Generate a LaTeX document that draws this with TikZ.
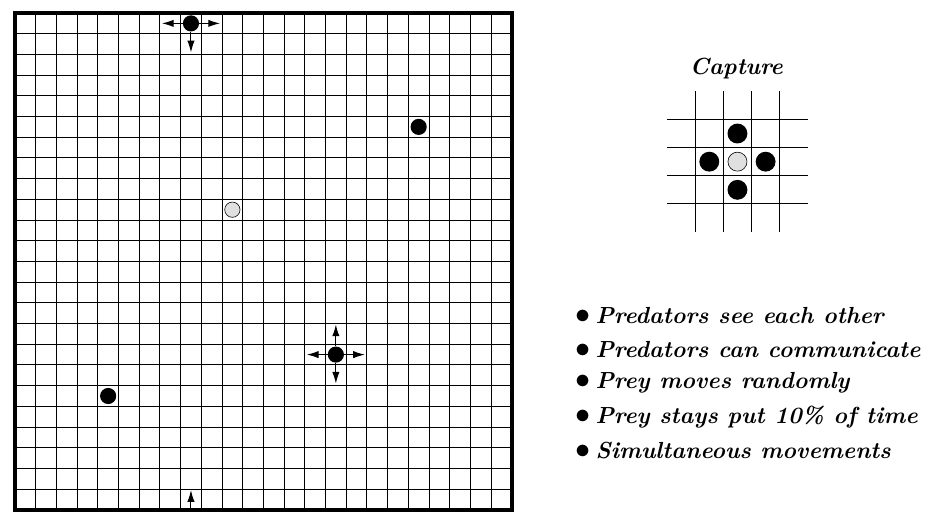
\documentclass[tikz,border=0pt]{standalone}
\usepackage{tikz}
\usetikzlibrary{arrows.meta, positioning}
\definecolor{preygray}{RGB}{224, 224, 224}
\newcommand{\rulebullet}{\makebox[14pt][l]{\huge$\bullet$}}

\begin{document}
\begin{tikzpicture}[x=0.5cm, y=0.5cm,
    predator/.style={circle, fill=black, inner sep=0pt, minimum size=0.39cm},
    prey/.style={circle, draw=black, fill=preygray, line width=0.4pt, inner sep=0pt, minimum size=0.37cm},
    bigpredator/.style={predator, minimum size=0.48cm},
    bigprey/.style={prey, minimum size=0.46cm},
    move/.style={-{Latex[length=8pt, width=5pt]}, line width=0.7pt},
    rule/.style={font=\fontsize{16}{19}\selectfont\bfseries\itshape, anchor=base west, inner sep=0pt}]
    \useasboundingbox (-0.725,-0.64) rectangle (43.96,24.63);

    % world grid
    \draw[line width=0.7pt, step=1] (0,0) grid (24,24);
    \draw[line width=2.4pt] (0,0) rectangle (24,24);

    % predators and prey
    \node[predator] (pA) at (8.5,23.5) {};
    \node[predator] (pB) at (19.5,18.5) {};
    \node[predator] (pC) at (15.5,7.5) {};
    \node[predator] (pD) at (4.5,5.5) {};
    \node[prey] (prey) at (10.5,14.5) {};

    % moves
    \coordinate (pAw) at (7.1,23.5);
    \coordinate (pAe) at (9.9,23.5);
    \coordinate (pAs) at (8.5,22.1);
    \draw[move] (pA) -- (pAw);
    \draw[move] (pA) -- (pAe);
    \draw[move] (pA) -- (pAs);

    \coordinate (pCw) at (14.1,7.5);
    \coordinate (pCe) at (16.9,7.5);
    \coordinate (pCn) at (15.5,8.95);
    \coordinate (pCs) at (15.5,6.1);
    \draw[move] (pC) -- (pCw);
    \draw[move] (pC) -- (pCe);
    \draw[move] (pC) -- (pCn);
    \draw[move] (pC) -- (pCs);

    % wrap-around
    \coordinate (wrapA) at (8.5,0);
    \coordinate (wrapB) at (8.5,0.95);
    \draw[move] (wrapA) -- (wrapB);

    % capture
    \node[font=\fontsize{16}{19}\selectfont\bfseries\itshape] (captitle) at (34.85,21.3) {Capture};
    \begin{scope}[shift={(34.9,16.82)}]
        \foreach \k in {-2.04,-0.68,0.68,2.04} {
            \draw[line width=0.7pt] (-3.4,\k) -- (3.4,\k);
            \draw[line width=0.7pt] (\k,-3.4) -- (\k,3.4);
        }
        \node[bigprey] (cC) at (0,0) {};
        \node[bigpredator] (cN) at (0,1.36) {};
        \node[bigpredator] (cS) at (0,-1.36) {};
        \node[bigpredator] (cW) at (-1.36,0) {};
        \node[bigpredator] (cE) at (1.36,0) {};
    \end{scope}

    % rules
    \node[rule] (r1) at (27.05,9.02) {\rulebullet Predators see each other};
    \node[rule] (r2) at (27.05,7.38) {\rulebullet Predators can communicate};
    \node[rule] (r3) at (27.05,5.84) {\rulebullet Prey moves randomly};
    \node[rule] (r4) at (27.05,4.19) {\rulebullet Prey stays put 10\% of time};
    \node[rule] (r5) at (27.05,2.50) {\rulebullet Simultaneous movements};
\end{tikzpicture}
\end{document}
